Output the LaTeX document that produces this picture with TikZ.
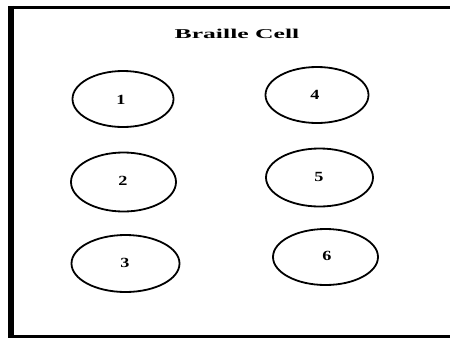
\documentclass[tikz,border=0pt]{standalone}
\usepackage{fontspec}
\setmainfont{Liberation Serif}
\usetikzlibrary{shapes.geometric}
\tikzset{
  dot/.style={draw=black, line width=1.8pt, ellipse, inner sep=0pt, minimum width=103pt, minimum height=57pt},
  num/.style={font=\fontsize{14}{14}\selectfont\bfseries, inner sep=0pt},
  frame/.style={draw=black, line width=3.5pt},
}
\begin{document}
\begin{tikzpicture}[x=1pt,y=-1pt]
\useasboundingbox (0,0) rectangle (450,338);
\fill[white] (0,0) rectangle (450,338);
\begin{scope}
\clip (0,0) rectangle (450,338);
\draw[frame] (8,7.5) -- (460,7.5);
\draw[frame] (8,336.5) -- (460,336.5);
\draw[draw=black, line width=6pt] (11,5.75) -- (11,338);
\end{scope}
\node[inner sep=0pt, font=\fontsize{13.5}{13.5}\selectfont\bfseries] (title) at (237,34) {\scalebox{1.9}[1]{Braille Cell}};
\node[dot, minimum width=101pt, minimum height=56pt] (d1) at (123,99) {};
\node[dot, minimum width=103pt, minimum height=56pt] (d4) at (317,95) {};
\node[dot, minimum width=105pt, minimum height=59pt] (d2) at (123.5,182) {};
\node[dot, minimum width=107pt, minimum height=58pt] (d5) at (319.5,177.5) {};
\node[dot, minimum width=108pt, minimum height=57pt] (d3) at (125.5,263.5) {};
\node[dot, minimum width=105pt, minimum height=56pt] (d6) at (325.5,257) {};
\node[num] (t1) at (121,100) {\scalebox{1.3}[1]{1}};
\node[num] (t4) at (315,95) {\scalebox{1.3}[1]{4}};
\node[num] (t2) at (123,181) {\scalebox{1.3}[1]{2}};
\node[num] (t5) at (319,177) {\scalebox{1.3}[1]{5}};
\node[num] (t3) at (125,263) {\scalebox{1.3}[1]{3}};
\node[num] (t6) at (327,256) {\scalebox{1.3}[1]{6}};
\end{tikzpicture}
\end{document}
